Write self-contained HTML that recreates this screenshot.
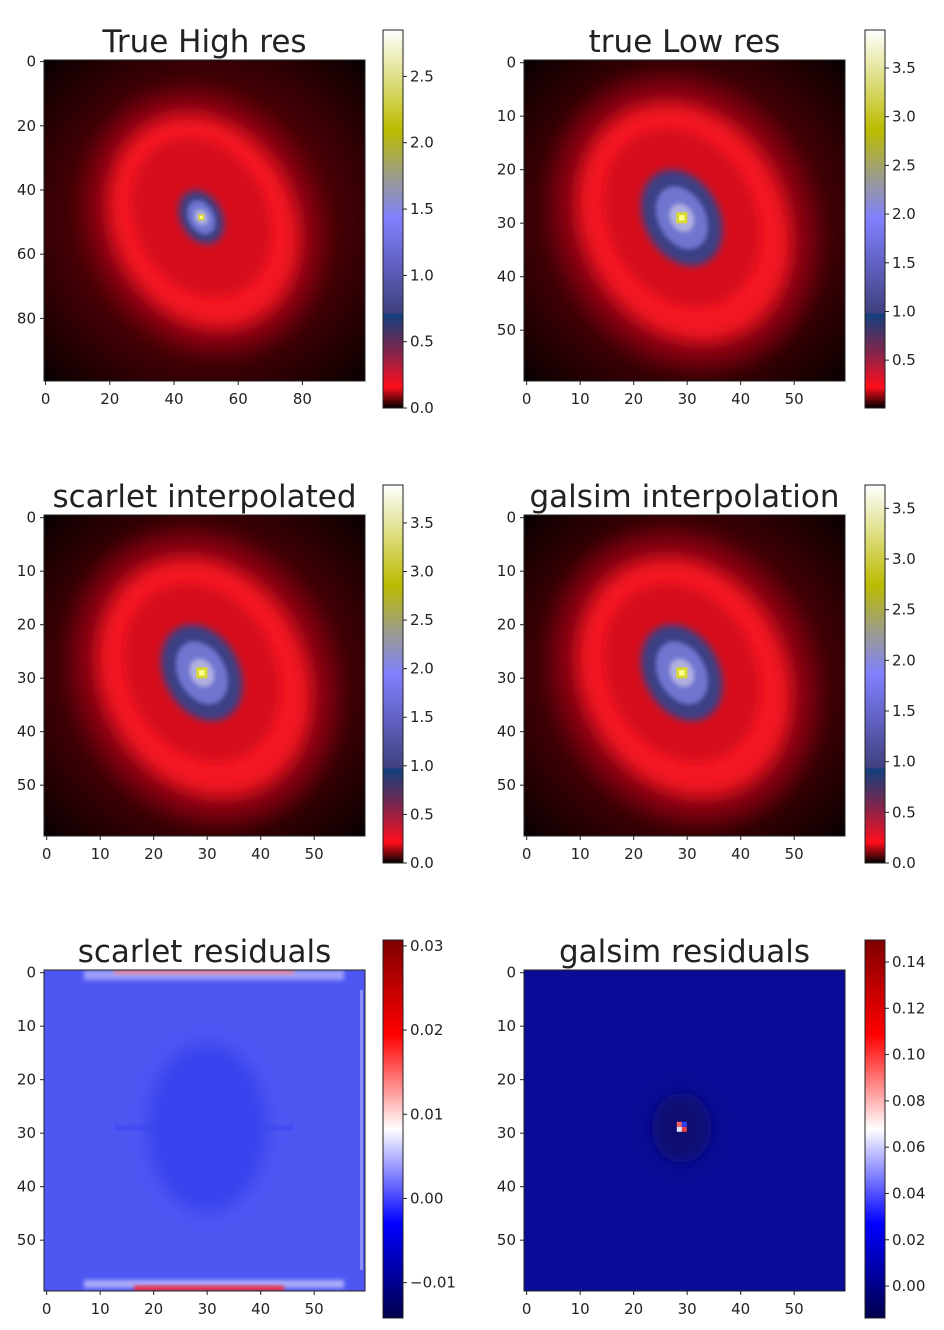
<!DOCTYPE html>
<html><head><meta charset="utf-8"><style>
html,body{margin:0;padding:0;background:#fff}
svg{display:block}
text{font-family:"DejaVu Sans","Liberation Sans",sans-serif;fill:#222}
</style></head><body>
<svg id="fig" width="944" height="1330" viewBox="0 0 944 1330" xmlns="http://www.w3.org/2000/svg">
<defs>
<linearGradient id="stern" x1="0" y1="1" x2="0" y2="0">
<stop offset="0" stop-color="#000000"/><stop offset="0.055" stop-color="#ff0e1c"/>
<stop offset="0.15" stop-color="#80264c"/><stop offset="0.249" stop-color="#10407f"/>
<stop offset="0.251" stop-color="#40407f"/><stop offset="0.5" stop-color="#8080ff"/>
<stop offset="0.6" stop-color="#999999"/><stop offset="0.735" stop-color="#bbbb00"/>
<stop offset="1" stop-color="#ffffff"/></linearGradient>
<linearGradient id="seismic" x1="0" y1="1" x2="0" y2="0">
<stop offset="0" stop-color="#00004c"/><stop offset="0.25" stop-color="#0000ff"/>
<stop offset="0.5" stop-color="#ffffff"/><stop offset="0.75" stop-color="#ff0000"/>
<stop offset="1" stop-color="#800000"/></linearGradient>
<radialGradient id="bg" cx="0.5" cy="0.5" r="0.72"><stop offset="0" stop-color="#900010"/><stop offset="0.55" stop-color="#4a0006"/><stop offset="1" stop-color="#050000"/></radialGradient>
<filter id="b8" x="-50%" y="-50%" width="200%" height="200%"><feGaussianBlur stdDeviation="9"/></filter>
<filter id="b4" x="-50%" y="-50%" width="200%" height="200%"><feGaussianBlur stdDeviation="4"/></filter>
<filter id="b2" x="-50%" y="-50%" width="200%" height="200%"><feGaussianBlur stdDeviation="2"/></filter>
</defs>
</svg>
<script>
// panel data
const titles = ["True High res","true Low res","scarlet interpolated","galsim interpolation","scarlet residuals","galsim residuals"];
const extents = [100,60,60,60,60,60];
const axisTicksHigh = [0,20,40,60,80];
const axisTicksLow = [0,10,20,30,40,50];
const cbMin = [0,0.009,0,0,-0.0142,-0.0138];
const cbMax = [2.85,3.89,3.89,3.73,0.0307,0.1495];
const cbTicks1 = [0,0.5,1,1.5,2,2.5];
const cbTicks2 = [0.5,1,1.5,2,2.5,3,3.5];
const cbTicks3 = [0,0.5,1,1.5,2,2.5,3,3.5];
const cbTicks4 = [0,0.5,1,1.5,2,2.5,3,3.5];
const cbTicks5 = [-0.01,0,0.01,0.02,0.03];
const cbTicks6 = [0,0.02,0.04,0.06,0.08,0.1,0.12,0.14];
const cbLabels5 = ["\u22120.01","0.00","0.01","0.02","0.03"];
const cbLabels6 = ["0.00","0.02","0.04","0.06","0.08","0.10","0.12","0.14"];

const NS="http://www.w3.org/2000/svg";
const svg=document.getElementById('fig');
function el(tag,attrs,parent){const e=document.createElementNS(NS,tag);for(const k in attrs)e.setAttribute(k,attrs[k]);(parent||svg).appendChild(e);return e;}

const colX=[44,524], rowY=[60,515,970], S=321;
const cbX=[383,865], cbY=[30,485,940], CBH=378, CBW=20;

function galaxy(g,x0,y0,cx,cy,k,hi){
  el('rect',{x:x0,y:y0,width:S,height:S,fill:'url(#bg)'},g);
  const t=`rotate(-28 ${cx} ${cy})`;
  el('ellipse',{cx:cx,cy:cy+5,rx:135*k,ry:160*k,fill:'#a00614',opacity:0.6,filter:'url(#b8)',transform:t},g);
  el('ellipse',{cx:cx,cy:cy+5,rx:108*k,ry:132*k,fill:'#f41222',filter:'url(#b8)',transform:t},g);
  el('ellipse',{cx:cx,cy:cy,rx:78*k,ry:98*k,fill:'#d80e1e',filter:'url(#b4)',transform:t},g);
  const c=hi?0.4:0.8;
  el('ellipse',{cx:cx,cy:cy,rx:42*c+4,ry:56*c+6,fill:'#3a3f85',filter:'url(#b4)',transform:t},g);
  el('ellipse',{cx:cx,cy:cy,rx:27*c+2,ry:38*c+3,fill:'#7075d0',filter:'url(#b2)',transform:t},g);
  el('ellipse',{cx:cx,cy:cy,rx:12*c+2,ry:16*c+2,fill:'#b0b0e0',filter:'url(#b2)',transform:t},g);
  const d=hi?6:11;
  el('rect',{x:cx-d/2,y:cy-d/2,width:d,height:d,fill:'#d8d830'},g);
  el('rect',{x:cx-d/4,y:cy-d/4,width:d/2,height:d/2,fill:'#ffff90'},g);
}

function panel(i){
  const c=i%2,r=Math.floor(i/2),x0=colX[c],y0=rowY[r],ext=extents[i];
  const g=el('g',{});
  
  
  const clip=el('clipPath',{id:'clip'+i},g);
  el('rect',{x:x0,y:y0,width:S,height:S},clip);
  const img=el('g',{'clip-path':`url(#clip${i})`},g);
  
  
  const px=v=>x0+(v+0.5)*S/ext, py=v=>y0+(v+0.5)*S/ext;
  if(i<4){
    const cx=px(ext===100?48.5:29), cy=py(ext===100?48.5:29);
    galaxy(img,x0,y0,cx,cy,i===0?0.85:0.95,i===0);
  } else if(i===4){
    el('rect',{x:x0,y:y0,width:S,height:S,fill:'#4f57f2'},img);
    el('ellipse',{cx:px(30),cy:py(29),rx:60,ry:85,fill:'#2a34ea',filter:'url(#b8)',opacity:0.6},img);
    el('rect',{x:x0+70,y:py(29)-3,width:180,height:6,fill:'#3a46f0',opacity:0.5},img);
    el('rect',{x:x0+70,y:y0,width:180,height:4,fill:'#ff3030',filter:'url(#b2)'},img);
    el('rect',{x:x0+40,y:y0,width:260,height:10,fill:'#e8e8ff',opacity:0.5,filter:'url(#b2)'},img);
    el('rect',{x:x0+40,y:y0+S-11,width:260,height:8,fill:'#e8e8ff',opacity:0.6,filter:'url(#b2)'},img);
    el('rect',{x:x0+90,y:y0+S-5,width:150,height:5,fill:'#ff2020',filter:'url(#b2)'},img);
    el('rect',{x:x0+S-5,y:y0+20,width:3,height:280,fill:'#b0b4ff',opacity:0.6},img);
  } else {
    el('rect',{x:x0,y:y0,width:S,height:S,fill:'#0a0c98'},img);
    el('ellipse',{cx:px(29),cy:py(29),rx:30,ry:35,fill:'#080a70',filter:'url(#b8)'},img);
    el('rect',{x:px(29)-5,y:py(29)-6,width:5,height:5,fill:'#ff6060'},img);
    el('rect',{x:px(29),y:py(29)-1,width:5,height:5,fill:'#f04040'},img);
    el('rect',{x:px(29)-5,y:py(29)-1,width:5,height:5,fill:'#e0e0ff'},img);
    el('rect',{x:px(29),y:py(29)-6,width:5,height:5,fill:'#3040ff'},img);
  }
  el('rect',{x:x0,y:y0,width:S,height:S,fill:'none',stroke:'#222','stroke-width':1},g);
  const tt=el('text',{x:x0+S/2,y:y0-8,'text-anchor':'middle','font-size':31},g);
  tt.textContent=titles[i];
  
  
  const ticks=ext===100?axisTicksHigh:axisTicksLow;
  ticks.forEach(v=>{
    el('line',{x1:px(v),x2:px(v),y1:y0+S,y2:y0+S+4,stroke:'#222'},g);
    const t=el('text',{x:px(v),y:y0+S+23,'text-anchor':'middle','font-size':15},g);
    t.textContent=v;
    
    
    el('line',{x1:x0-4,x2:x0,y1:py(v),y2:py(v),stroke:'#222'},g);
    const u=el('text',{x:x0-8,y:py(v)+5,'text-anchor':'end','font-size':15},g);
    u.textContent=v;
    
    
  });
  const bx=cbX[c],by=cbY[r];
  const cb=el('g',{},g);
  
  
  el('rect',{x:bx,y:by,width:CBW,height:CBH,fill:i<4?'url(#stern)':'url(#seismic)',stroke:'#222','stroke-width':1},cb);
  const tk=[cbTicks1,cbTicks2,cbTicks3,cbTicks4,cbTicks5,cbTicks6][i];
  const cy=v=>by+CBH-(v-cbMin[i])/(cbMax[i]-cbMin[i])*CBH;
  tk.forEach((v,j)=>{
    el('line',{x1:bx+CBW,x2:bx+CBW+4,y1:cy(v),y2:cy(v),stroke:'#222'},cb);
    const t=el('text',{x:bx+CBW+7,y:cy(v)+5,'font-size':15},cb);
    t.textContent=i===4?cbLabels5[j]:i===5?cbLabels6[j]:v.toFixed(1);
    
    
  });
}
for(let i=0;i<6;i++)panel(i);
</script>
</body></html>
